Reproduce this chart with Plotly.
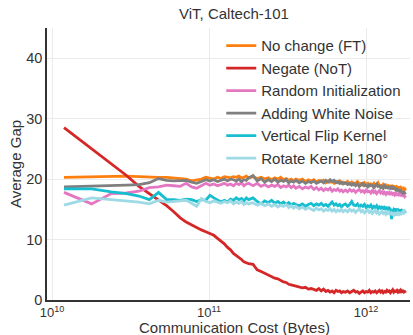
import plotly.graph_objects as go

# Communication rounds at which each point was recorded
rounds = [2, 3, 4, 5, 6, 7, 8, 9, 10, 11, 12, 13, 14, 15, 16, 17, 18, 19, 20, 21,
          22, 23, 24, 25, 26, 27, 28, 29, 30,
          32, 34, 36, 38, 40, 42, 44, 46, 48, 50, 52, 54, 56, 58, 60,
          63, 66, 69, 72, 75, 78, 81, 84, 87, 90, 93, 96, 99, 102, 105, 108, 111, 114, 117, 120,
          124, 128, 132, 136, 140, 144, 148, 152, 156, 160,
          164, 168, 172, 176, 180, 184, 188, 192, 196, 200,
          204, 208, 212, 216, 220, 224, 228, 232, 236, 240,
          244, 248, 252, 256, 260, 264, 268, 272, 276, 280,
          284, 288, 292, 296, 300]
BYTES_PER_ROUND = 5.96e9

no_change_ft = [20.3, 20.4, 20.4, 20.5, 20.4, 20.3, 20.3, 20.3, 20.2, 20.1,
                20.0, 19.7, 19.8, 20.0, 20.3, 20.2, 20.0, 20.3, 20.1, 20.4,
                20.3, 20.2, 20.4, 20.3, 20.5, 20.2, 20.3, 20.5, 20.2,
                20.4, 20.1, 20.3, 20.0, 20.2, 19.9, 20.2, 20.0, 20.3, 19.9,
                20.1, 19.8, 20.0, 19.7, 20.0,
                19.8, 20.0, 19.6, 19.9, 19.7, 19.9, 19.5, 19.8, 19.6, 19.8,
                19.4, 19.7, 19.5, 19.6, 19.3, 19.6, 19.4, 19.7, 19.3, 19.5,
                19.3, 19.6, 19.2, 19.5, 19.1, 19.4, 19.6, 19.2, 19.3, 19.0,
                19.4, 19.1, 19.3, 18.9, 19.2, 19.0, 19.3, 18.8, 19.1, 19.4,
                18.9, 19.0, 18.7, 19.1, 18.8, 19.0, 18.6, 18.9, 18.7, 19.0,
                18.5, 18.8, 18.6, 18.9, 18.4, 18.7, 18.5, 18.8, 18.3, 18.6,
                18.4, 18.5, 18.2, 18.4, 18.1]

negate_not = [28.5, 25.0, 22.5, 20.6, 18.8, 17.6, 16.6, 15.6, 14.6, 13.6,
              12.9, 12.4, 11.9, 11.6, 11.3, 11.0, 10.7, 10.2, 9.8, 9.3,
              8.7, 8.3, 7.7, 7.4, 7.0, 6.7, 6.3, 6.1, 6.0,
              5.9, 5.0, 4.7, 4.4, 4.1, 3.9, 3.6, 3.5, 3.2, 3.0,
              2.9, 2.6, 2.5, 2.4, 2.3,
              2.2, 2.0, 2.1, 1.8, 1.9, 1.7, 1.6, 1.9, 1.5, 1.8,
              1.4, 1.6, 1.3, 1.5, 1.2, 1.6, 1.4, 1.5, 1.2, 1.4,
              1.3, 1.5, 1.2, 1.4, 1.6, 1.3, 1.4, 1.1, 1.3, 1.5,
              1.2, 1.4, 1.3, 1.6, 1.2, 1.4, 1.3, 1.5, 1.2, 1.4,
              1.6, 1.3, 1.5, 1.2, 1.4, 1.3, 1.6, 1.4, 1.5, 1.2,
              1.4, 1.7, 1.3, 1.5, 1.4, 1.6, 1.3, 1.5, 1.2, 1.6,
              1.4, 1.5, 1.3, 1.4, 1.2]

random_init = [17.8, 15.9, 17.6, 17.7, 18.0, 18.6, 18.7, 19.0, 18.9, 18.8,
               19.3, 18.7, 18.5, 18.9, 19.3, 19.0, 19.2, 18.9, 19.1, 19.3,
               19.0, 19.2, 18.9, 19.3, 19.1, 19.4, 18.9, 19.2, 19.3,
               18.9, 19.3, 18.8, 19.1, 18.7, 19.0, 18.8, 19.1, 18.6, 18.9,
               18.7, 19.0, 18.6, 18.9, 18.5,
               18.8, 18.4, 18.7, 18.5, 18.8, 18.3, 18.6, 18.2, 18.5, 18.1,
               18.4, 18.2, 18.5, 18.0, 18.3, 18.1, 18.4, 18.0, 18.2, 17.9,
               18.2, 17.9, 18.3, 18.0, 18.2, 17.8, 18.1, 18.3, 17.9, 18.1,
               17.8, 18.2, 17.9, 18.0, 17.7, 18.1, 17.8, 18.0, 17.6, 17.9,
               18.1, 17.7, 17.9, 17.6, 17.8, 17.5, 17.9, 17.6, 17.8, 17.4,
               17.7, 17.5, 17.8, 17.4, 17.6, 17.3, 17.7, 17.4, 17.5, 17.2,
               17.6, 17.3, 17.4, 17.1, 17.3]

white_noise = [18.7, 18.8, 18.9, 19.0, 19.1, 19.4, 20.1, 19.8, 19.7, 19.8,
               19.8, 19.5, 19.3, 19.6, 19.9, 19.7, 19.9, 19.6, 19.8, 20.0,
               19.7, 20.0, 19.9, 19.7, 20.0, 19.6, 19.9, 19.8, 20.2,
               20.6, 19.7, 20.1, 19.5, 19.9, 19.6, 20.0, 19.5, 19.8, 19.6,
               19.9, 19.4, 19.7, 19.5, 19.8,
               19.4, 19.7, 19.3, 19.6, 19.4, 19.7, 19.3, 19.5, 19.7, 19.4,
               19.8, 19.5, 19.9, 19.6, 19.8, 19.4, 19.6, 19.3, 19.5, 19.2,
               19.4, 19.1, 19.3, 19.0, 19.3, 18.9, 19.2, 18.8, 19.1, 19.3,
               18.9, 19.0, 18.7, 19.1, 18.9, 19.0, 18.6, 18.9, 19.2, 18.8,
               18.9, 18.6, 18.8, 18.5, 18.9, 18.6, 18.7, 18.4, 18.8, 18.5,
               18.7, 18.3, 18.6, 18.4, 18.2, 18.5, 18.0, 18.3, 17.8, 18.1,
               17.9, 17.7, 18.0, 17.6, 17.8]

vertical_flip = [18.4, 18.4, 17.9, 17.6, 17.2, 16.6, 17.8, 16.6, 16.6, 16.5,
                 16.7, 16.6, 16.3, 16.6, 16.5, 17.3, 16.9, 16.6, 16.2, 16.5,
                 16.2, 16.7, 16.5, 16.9, 16.6, 16.8, 16.4, 16.9, 16.6,
                 16.9, 16.3, 15.9, 16.4, 16.1, 16.5, 16.0, 16.3, 15.9, 16.2,
                 15.8, 16.1, 15.7, 16.0, 15.8,
                 15.6, 15.9, 15.5, 15.8, 16.0, 15.6, 15.9, 15.7, 16.0, 15.6,
                 15.8, 15.5, 15.9, 16.2, 15.7, 15.9, 15.6, 15.8, 15.4, 15.7,
                 15.9, 15.5, 15.8, 16.3, 15.7, 15.6, 15.9, 15.4, 15.7, 15.5,
                 15.8, 15.3, 15.6, 15.4, 15.7, 15.2, 15.5, 15.3, 15.6, 15.1,
                 15.4, 15.2, 15.5, 15.0, 15.3, 15.1, 15.4, 14.9, 15.2, 15.0,
                 13.4, 14.7, 15.0, 14.8, 15.1, 14.7, 14.9, 14.6, 15.0, 14.5,
                 14.8, 14.6, 14.9, 14.5, 14.7]

rotate_180 = [15.7, 16.9, 16.6, 16.4, 16.2, 15.9, 16.5, 16.2, 16.3, 16.4,
              16.5, 16.0, 15.5, 16.8, 16.3, 16.1, 16.4, 16.2, 16.0, 16.3,
              16.1, 16.4, 15.9, 16.2, 16.0, 16.3, 15.8, 16.1, 15.9,
              16.1, 15.7, 16.0, 15.6, 15.9, 15.5, 15.8, 15.4, 15.7, 15.5,
              15.8, 15.3, 15.6, 15.2, 15.5,
              15.1, 15.4, 15.0, 15.3, 15.1, 14.8, 15.2, 14.9, 15.1, 14.7,
              15.0, 14.8, 15.1, 14.7, 15.0, 14.6, 14.9, 14.7, 15.0, 14.6,
              14.9, 14.6, 15.0, 14.7, 14.9, 14.5, 14.8, 15.1, 14.6, 14.8,
              14.4, 14.7, 14.9, 14.5, 14.7, 14.3, 14.6, 14.8, 14.4, 14.6,
              14.2, 14.5, 14.7, 14.3, 14.5, 14.2, 14.6, 14.3, 14.5, 14.1,
              14.4, 14.2, 14.5, 14.1, 14.3, 14.0, 14.4, 14.2, 14.5, 14.1,
              14.3, 14.6, 14.4, 14.7, 14.5]

series_names = ["No change (FT)", "Negate (NoT)", "Random Initialization",
                "Adding White Noise", "Vertical Flip Kernel", "Rotate Kernel 180°"]
series_values = [no_change_ft, negate_not, random_init, white_noise, vertical_flip, rotate_180]
series_colors = ["#ff7f0e", "#d62728", "#e377c2", "#7f7f7f", "#17becf", "#9edae5"]

x_tick_vals = [1e10, 1e11, 1e12]
x_tick_text = ["10<sup>10</sup>", "10<sup>11</sup>", "10<sup>12</sup>"]
y_tick_vals = [0, 10, 20, 30, 40]

comm_cost = [r * BYTES_PER_ROUND for r in rounds]

fig = go.Figure()
for name, vals, col in zip(series_names, series_values, series_colors):
    assert len(vals) == len(rounds), (name, len(vals), len(rounds))
    fig.add_trace(go.Scatter(x=comm_cost, y=vals, mode="lines", name=name,
                             line=dict(color=col, width=2.8)))

font_family = "Liberation Sans, Arial, sans-serif"
fig.update_layout(
    width=413, height=335,
    margin=dict(l=47, r=3, t=28, b=35),
    paper_bgcolor="white", plot_bgcolor="white",
    font=dict(family=font_family, size=15, color="#333333"),
    title=dict(text="ViT, Caltech-101", x=0.515, xref="paper", xanchor="center",
               y=0.958, yanchor="middle", font=dict(size=15, color="#333333")),
    legend=dict(x=0.48, y=0.995, xanchor="left", yanchor="top",
                bgcolor="rgba(0,0,0,0)", font=dict(size=15, color="#333333"),
                itemwidth=30),
    showlegend=True,
    annotations=[dict(text="Communication Cost (Bytes)", xref="paper", yref="paper",
                      x=0.5165, y=-0.1, xanchor="center", yanchor="middle",
                      showarrow=False, font=dict(size=15, color="#333333"))],
)
fig.update_xaxes(type="log", range=[9.968, 12.28],
                 tickvals=x_tick_vals, ticktext=x_tick_text,
                 tickfont=dict(size=13),
                 showgrid=True, gridcolor="#ebebeb", gridwidth=1,
                 showline=True, linecolor="#333333", linewidth=1.5,
                 ticks="", zeroline=False, automargin=False)
fig.update_yaxes(range=[0, 45], tickvals=y_tick_vals,
                 tickfont=dict(size=14.5),
                 showgrid=True, gridcolor="#ebebeb", gridwidth=1,
                 showline=True, linecolor="#333333", linewidth=1.5,
                 ticks="", zeroline=False, automargin=False,
                 title=dict(text="Average Gap", standoff=1, font=dict(size=15)))

fig.write_html("out.html")
